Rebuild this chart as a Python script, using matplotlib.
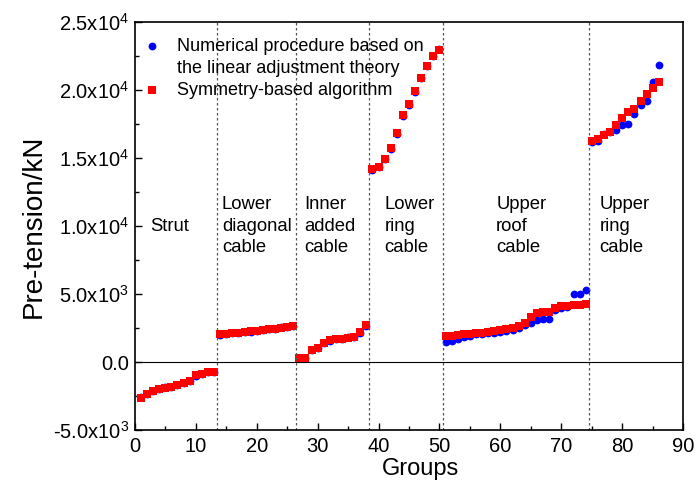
import numpy as np
import matplotlib
matplotlib.use('Agg')
import matplotlib.pyplot as plt
from matplotlib.ticker import MultipleLocator

plt.rcParams['font.family'] = ['Liberation Sans', 'DejaVu Sans']
plt.rcParams['mathtext.default'] = 'regular'

# pre-tension per member group (kN)
strut_red = [-2670, -2380, -2130, -1960, -1890, -1810, -1690, -1570, -1400, -980, -910, -740, -710]
strut_blue = [-2600, -2330, -2100, -1980, -1870, -1830, -1700, -1550, -1420, -1000, -890, -760, -700]

diag_red = [2030, 2070, 2110, 2150, 2190, 2250, 2300, 2360, 2410, 2460, 2530, 2590, 2630]
diag_blue = [2010, 2060, 2120, 2140, 2200, 2240, 2310, 2350, 2420, 2450, 2540, 2580, 2650]

inner_red = [300, 320, 880, 1050, 1370, 1590, 1660, 1710, 1790, 1860, 2230, 2700]
inner_blue = [280, 330, 900, 1030, 1390, 1570, 1680, 1700, 1810, 1840, 2150, 2650]

lring_red = [14190, 14360, 14900, 15750, 16850, 18150, 18940, 19920, 20900, 21780, 22540, 22980]
lring_blue = [14150, 14330, 14950, 15700, 16780, 18080, 18900, 19870, 20850, 21750, 22480, 23050]

roof_red = [1910, 1935, 1985, 2034, 2083, 2107, 2132, 2230, 2279, 2352, 2426, 2524,
            2646, 2891, 3308, 3577, 3650, 3700, 3993, 4091, 4140, 4164, 4189, 4238]
roof_blue = [1494, 1568, 1715, 1813, 1935, 2034, 2083, 2107, 2156, 2230, 2279, 2328,
             2475, 2720, 2842, 3087, 3136, 3185, 3797, 3944, 4042, 4973, 4973, 5267]

uring_red = [16244, 16366, 16660, 16905, 17395, 17958, 18375, 18571, 19184, 19723, 20164, 20580]
uring_blue = [16200, 16250, 16800, 16950, 17050, 17420, 17520, 18250, 18900, 19230, 20580, 21830]

red = strut_red + diag_red + inner_red + lring_red + roof_red + uring_red
blue = strut_blue + diag_blue + inner_blue + lring_blue + roof_blue + uring_blue
groups = np.arange(1, len(red) + 1)

# boundaries between member types and their labels
bounds = [13.5, 26.5, 38.5, 50.5, 74.5]
labels = ['Strut', 'Lower\ndiagonal\ncable', 'Inner\nadded\ncable', 'Lower\nring\ncable',
          'Upper\nroof\ncable', 'Upper\nring\ncable']
label_x = [2.6, 14.3, 27.8, 41.0, 59.3, 76.3]

yticks = [-5000, 0, 5000, 10000, 15000, 20000, 25000]
yticklabels = ['-5.0x10$^{3}$', '0.0', '5.0x10$^{3}$', '1.0x10$^{4}$',
               '1.5x10$^{4}$', '2.0x10$^{4}$', '2.5x10$^{4}$']

fig = plt.figure(figsize=(6.95, 4.9), dpi=100)
ax = fig.add_axes([0.194, 0.1224, 0.789, 0.8326])

ax.plot(groups, blue, 'o', color='#0000FF', ms=5.6, mew=0)
ax.plot(groups, red, 's', color='#FF0000', ms=5.8, mew=0)

ax.axhline(0, color='black', lw=0.8)
for b in bounds:
    ax.axvline(b, color='#555555', lw=0.9, linestyle=(0, (2, 2)))

for x, t in zip(label_x, labels):
    ax.text(x, 10000, t, fontsize=13.3, ha='left', va='center', linespacing=1.38)

# legend drawn by hand so the dot sits on the first text line
ax.plot([0.031], [0.942], 'o', color='#0000FF', ms=5.6, mew=0, transform=ax.transAxes)
ax.text(0.0766, 0.940, 'Numerical procedure based on', fontsize=13, va='center', transform=ax.transAxes)
ax.text(0.0766, 0.886, 'the linear adjustment theory', fontsize=13, va='center', transform=ax.transAxes)
ax.plot([0.031], [0.833], 's', color='#FF0000', ms=5.8, mew=0, transform=ax.transAxes)
ax.text(0.0766, 0.831, 'Symmetry-based algorithm', fontsize=13, va='center', transform=ax.transAxes)

ax.set_xlim(0, 90)
ax.set_ylim(-5000, 25000)
ax.xaxis.set_major_locator(MultipleLocator(10))
ax.xaxis.set_minor_locator(MultipleLocator(5))
ax.set_yticks(yticks)
ax.set_yticklabels(yticklabels)
ax.yaxis.set_minor_locator(MultipleLocator(2500))
ax.tick_params(which='both', direction='in', labelsize=14.5, width=1)
ax.tick_params(axis='x', pad=5)
ax.tick_params(axis='y', pad=4)
ax.tick_params(which='major', length=5)
ax.tick_params(which='minor', length=3)
for s in ax.spines.values():
    s.set_linewidth(1.2)

ax.set_xlabel('Groups', fontsize=17)
ax.xaxis.set_label_coords(0.521, -0.068)
ax.set_ylabel('Pre-tension/kN', fontsize=20)
ax.yaxis.set_label_coords(-0.16, 0.5)

plt.savefig('out.png', dpi=100)
